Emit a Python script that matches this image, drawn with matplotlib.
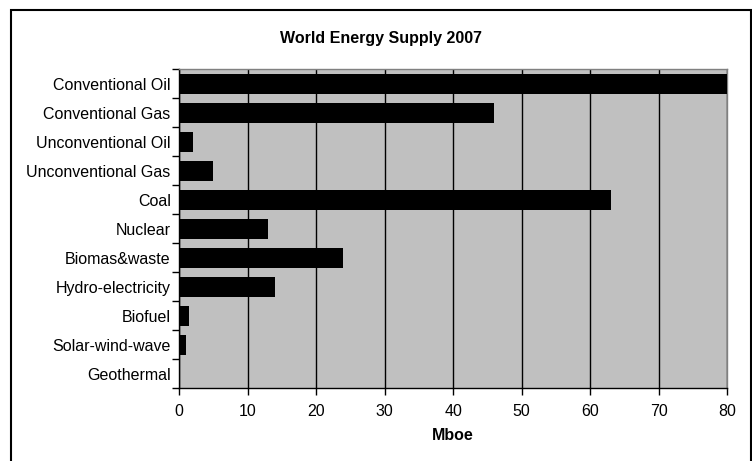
import numpy as np
import matplotlib.pyplot as plt
from matplotlib.patches import Rectangle

plt.rcParams['font.family'] = ['Liberation Sans', 'DejaVu Sans']

# supply by source, Mboe
sources = ['Conventional Oil', 'Conventional Gas', 'Unconventional Oil',
           'Unconventional Gas', 'Coal', 'Nuclear', 'Biomas&waste',
           'Hydro-electricity', 'Biofuel', 'Solar-wind-wave', 'Geothermal']
supply = [80, 46, 2, 5, 63, 13, 24, 14, 1.5, 1, 0]
xticks = [0, 10, 20, 30, 40, 50, 60, 70, 80]

fig = plt.figure(figsize=(7.52, 4.61), dpi=100)
ax = fig.add_axes([0.238, 0.1577, 0.729, 0.692])

y = np.arange(len(sources))
ax.barh(y, supply, height=0.67, color='black', zorder=3)
ax.set_ylim(len(sources) - 0.5, -0.5)
ax.set_xlim(0, 80)

ax.set_facecolor('#c0c0c0')
ax.set_xticks(xticks)
ax.set_xticklabels([str(t) for t in xticks], fontsize=11.5)
ax.set_yticks(y)
ax.set_yticklabels(sources, fontsize=11.5)
ax.tick_params(axis='y', length=0, pad=6)
ax.set_yticks(np.arange(len(sources) + 1) - 0.5, minor=True)
ax.tick_params(axis='y', which='minor', length=5, width=1, color='black')
ax.tick_params(axis='x', length=5, width=1, color='black', pad=6)
ax.xaxis.grid(True, color='black', linewidth=1, zorder=2)
ax.set_axisbelow(True)

for side in ['top', 'right']:
    ax.spines[side].set_color('#808080')
    ax.spines[side].set_linewidth(1)
for side in ['left', 'bottom']:
    ax.spines[side].set_color('black')
    ax.spines[side].set_linewidth(1)

ax.set_xlabel('Mboe', fontsize=11.5, fontweight='bold', labelpad=7)
fig.text(0.507, 1 - 38.5 / 461, 'World Energy Supply 2007', ha='center',
         va='center', fontsize=11.5, fontweight='bold')

# outer chart frame
fig.patches.append(Rectangle((11 / 752, -0.02), 740 / 752, 1 - 10 / 461 + 0.02,
                             transform=fig.transFigure, fill=False,
                             edgecolor='black', linewidth=1.5))

fig.savefig('out.png', dpi=100)
